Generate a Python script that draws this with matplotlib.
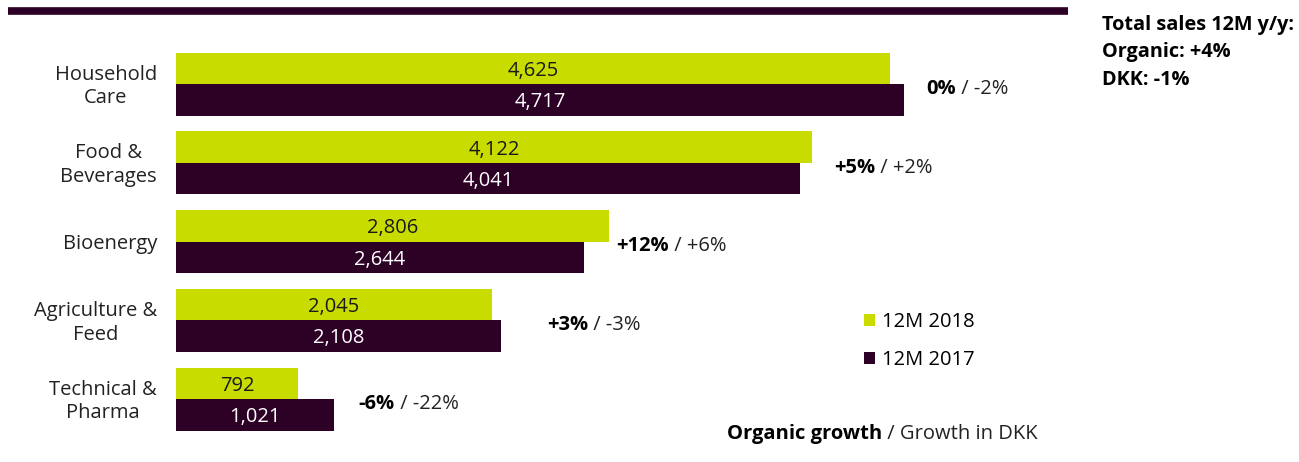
import matplotlib.pyplot as plt
from matplotlib.lines import Line2D
import numpy as np

plt.rcParams["font.family"] = ["Open Sans", "DejaVu Sans"]

categories = ["Household\nCare", "Food &\nBeverages", "Bioenergy", "Agriculture &\nFeed", "Technical &\nPharma"]
sales_2018 = [4625, 4122, 2806, 2045, 792]
sales_2017 = [4717, 4041, 2644, 2108, 1021]
organic = ["0%", "+5%", "+12%", "+3%", "-6%"]
dkk = ["-2%", "+2%", "+6%", "-3%", "-22%"]

GREEN = "#c8dc00"
PLUM = "#2d0026"

# gap (px) between the longer bar and the growth label
label_gap = [22, 22, 7, 46, 25]

W, H = 1299, 462
fig = plt.figure(figsize=(W / 100, H / 100), dpi=100)

# axes: x=0 at pixel 176, 0.1543 px per unit; groups 78.75 px apart
left_px = 176
px_per_unit = 728 / 4717
pitch = 78.75
ax = fig.add_axes([left_px / W, 0, 1 - left_px / W, 1])
ax.set_xlim(0, (W - left_px) / px_per_unit)
ax.set_ylim((H - 84) / pitch, -84 / pitch)
ax.axis("off")

y = np.arange(len(categories))
h = 31.5 / pitch
dy = 2.5 / pitch  # nudge text down a touch
b18 = ax.barh(y - h / 2, sales_2018, height=h, color=GREEN, label="12M 2018")
b17 = ax.barh(y + h / 2, sales_2017, height=h, color=PLUM, label="12M 2017")

fs = 14.5
for i in range(len(categories)):
    ax.text(sales_2018[i] / 2, y[i] - h / 2 + dy, f"{sales_2018[i]:,}", ha="center", va="center",
            fontsize=fs, color="#1a1a1a")
    ax.text(sales_2017[i] / 2, y[i] + h / 2 + dy, f"{sales_2017[i]:,}", ha="center", va="center",
            fontsize=fs, color="white")
    ax.text(-19 / px_per_unit, y[i] + dy, categories[i], ha="right", va="center",
            multialignment="center", fontsize=fs, color="#222222", linespacing=1.25)
    xe = max(sales_2018[i], sales_2017[i]) + label_gap[i] / px_per_unit
    t = ax.text(xe, y[i] + 0.03 + dy, organic[i], ha="left", va="center", fontsize=fs,
                fontweight="bold", color="black")
    ax.annotate(f" / {dkk[i]}", xy=(1, 0), xycoords=t, ha="left", va="bottom",
                fontsize=fs, color="#222222")

# top rule
fig.add_artist(Line2D([8 / W, 1068 / W], [1 - 10.5 / H, 1 - 10.5 / H], color=PLUM, lw=5.5,
                      solid_capstyle="butt"))

# totals at top right
fig.text(1102 / W, 1 - 15 / H, "Total sales 12M y/y:\nOrganic: +4%\nDKK: -1%", ha="left", va="top",
         fontsize=14.3, fontweight="bold", linespacing=1.5)

fig.legend(handles=[b18, b17], loc="upper left", bbox_to_anchor=(864 / W, 1 - 312 / H),
           frameon=False, fontsize=fs, handlelength=0.55, handleheight=0.55, handletextpad=0.35,
           labelspacing=0.9, borderaxespad=0, borderpad=0)

tb = fig.text(727 / W, 1 - 434 / H, "Organic growth", ha="left", va="center", fontsize=fs,
              fontweight="bold")
ax.annotate(" / Growth in DKK", xy=(1, 0), xycoords=tb, ha="left", va="bottom", fontsize=fs,
            color="#222222")

fig.savefig("out.png", dpi=100)
